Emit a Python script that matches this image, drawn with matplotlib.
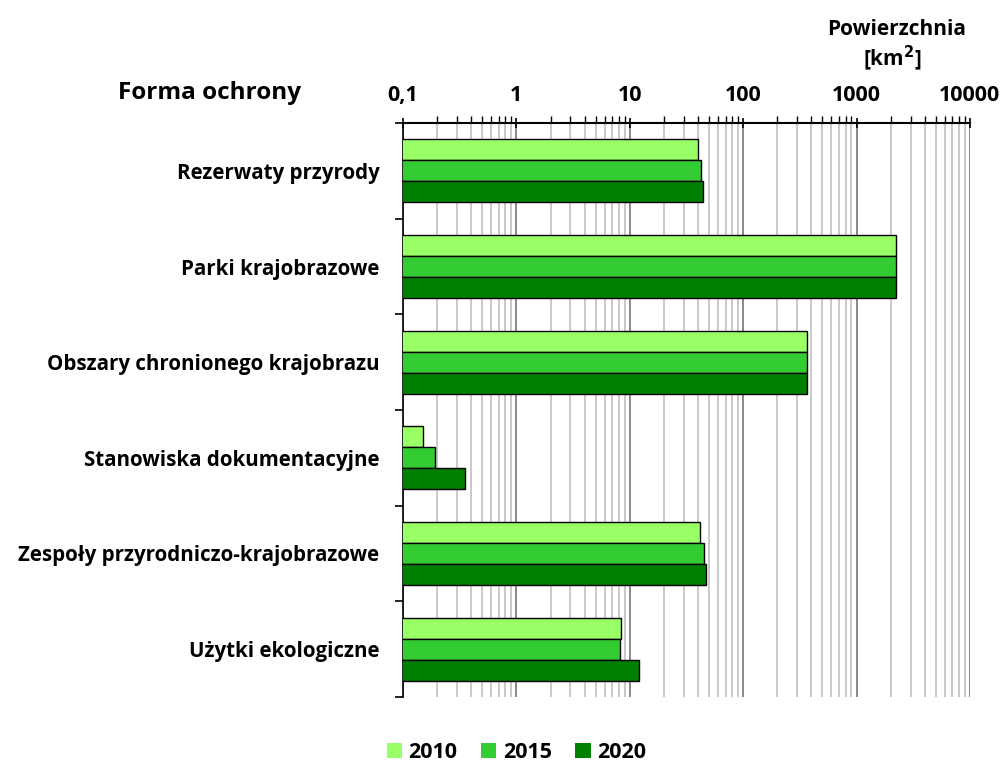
import numpy as np
import matplotlib.pyplot as plt
from matplotlib.ticker import LogLocator, FixedLocator, NullFormatter

# dane
kategorie = ['Rezerwaty przyrody', 'Parki krajobrazowe', 'Obszary chronionego krajobrazu',
             'Stanowiska dokumentacyjne', 'Zespoły przyrodniczo-krajobrazowe', 'Użytki ekologiczne']
lata = ['2010', '2015', '2020']
v2010 = [40, 2250, 366, 0.15, 42, 8.3]
v2015 = [42.5, 2250, 366, 0.19, 45.5, 8.2]
v2020 = [44, 2230, 366, 0.35, 47.5, 12]
os_ticks = [0.1, 1, 10, 100, 1000, 10000]
os_labels = ['0,1', '1', '10', '100', '1000', '10000']

plt.rcParams['font.family'] = ['Open Sans', 'DejaVu Sans']
plt.rcParams['font.weight'] = 'bold'

kolory = ['#99FF66', '#33CC33', '#008000']

fig = plt.figure(figsize=(10.03, 7.67), dpi=100)
ax = fig.add_axes([0.4018, 0.0913, 0.5652, 0.7483])

n = len(kategorie)
y = np.arange(n)
h = 0.22
for i, (vals, kol) in enumerate(zip([v2010, v2015, v2020], kolory)):
    ax.barh(y - h + i * h, vals, height=h, color=kol, edgecolor='black',
            linewidth=1, label=lata[i], zorder=3)

ax.set_xscale('log')
ax.set_xlim(0.1, 10000)
ax.set_ylim(n - 0.5, -0.5)

# siatka
ax.xaxis.set_major_locator(FixedLocator(os_ticks))
ax.xaxis.set_minor_locator(LogLocator(base=10, subs=np.arange(2, 10)))
ax.xaxis.set_minor_formatter(NullFormatter())
ax.grid(True, which='minor', axis='x', color='#c0c0c0', linewidth=1.2, zorder=0)
ax.grid(True, which='major', axis='x', color='#808080', linewidth=1.3, zorder=0)

ax.xaxis.tick_top()
ax.set_xticklabels(os_labels, fontsize=15.5, fontweight='bold')
ax.tick_params(axis='x', which='major', length=7, width=1.2, pad=9, direction='inout')
ax.tick_params(axis='x', which='minor', length=5, width=1, direction='out')

ax.set_yticks(np.arange(n + 1) - 0.5, minor=False)
ax.set_yticklabels([])
ax.set_yticks(y, minor=True)
ax.set_yticklabels(kategorie, minor=True, fontsize=14.8, fontweight='bold')
ax.tick_params(axis='y', which='major', length=6, width=1.2, direction='out')
ax.tick_params(axis='y', which='minor', length=0, pad=17)

for s in ['right', 'bottom']:
    ax.spines[s].set_visible(False)
ax.spines['left'].set_linewidth(1.2)
ax.spines['top'].set_linewidth(1.5)

fig.text(0.209, 0.879, 'Forma ochrony', fontsize=17.5, fontweight='bold', ha='center', va='center')
fig.text(0.894, 0.961, 'Powierzchnia', fontsize=15, fontweight='bold', ha='center', va='center')
fig.text(0.89, 0.924, '[km$^\\mathbf{2}$]', fontsize=15, fontweight='bold', ha='center', va='center')

fig.legend(loc='lower center', bbox_to_anchor=(0.515, -0.02), ncol=3, frameon=False,
           prop={'size': 15.5, 'weight': 'bold'}, handlelength=0.7, handleheight=0.7,
           handletextpad=0.3, columnspacing=1.1)
for p in fig.legends[0].get_patches():
    p.set_edgecolor('none')

fig.savefig('out.png', dpi=100)
